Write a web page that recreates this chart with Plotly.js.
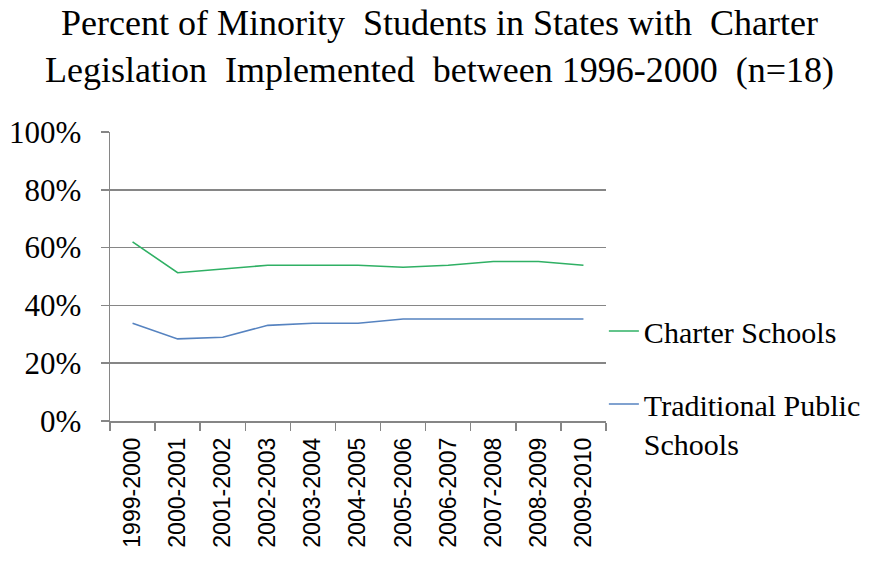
<!DOCTYPE html>
<html>
<head>
<meta charset="utf-8">
<script src="https://cdn.plot.ly/plotly-3.0.1.min.js"></script>
<style>
  html, body { margin: 0; padding: 0; background: #ffffff; }
  #chart { width: 879px; height: 582px; }
</style>
</head>
<body>
<div id="chart"></div>
<script>
// School years on the category axis
const schoolYears = ["1999-2000", "2000-2001", "2001-2002", "2002-2003", "2003-2004",
  "2004-2005", "2005-2006", "2006-2007", "2007-2008", "2008-2009", "2009-2010"];

// Share of minority students (fraction of enrolment)
const charterShare = [0.62, 0.513, 0.526, 0.539, 0.539, 0.539, 0.532, 0.539, 0.552, 0.552, 0.539];
const traditionalShare = [0.338, 0.284, 0.29, 0.331, 0.338, 0.338, 0.353, 0.353, 0.353, 0.353, 0.353];

const seriesNames = ["Charter Schools", "Traditional Public<br>Schools"];
const yTicks = [0, 0.2, 0.4, 0.6, 0.8, 1.0];
const yTickText = ["0%", "20%", "40%", "60%", "80%", "100%"];

const serif = "Liberation Serif, Times New Roman, serif";
const sans = "Liberation Sans, Arial, sans-serif";

const traces = [
  {
    x: schoolYears, y: charterShare, name: seriesNames[0],
    type: "scatter", mode: "lines",
    line: { color: "#2fb064", width: 1.6 },
    legend: "legend"
  },
  {
    x: schoolYears, y: traditionalShare, name: seriesNames[1],
    type: "scatter", mode: "lines",
    line: { color: "#5683c0", width: 1.6 },
    legend: "legend2"
  }
];

// Legends sit to the right of the plot, placed in container coordinates
const legendBase = {
  font: { family: serif, size: 30, color: "#000000" },
  bgcolor: "rgba(0,0,0,0)",
  itemwidth: 30,
  xref: "container", yref: "container",
  xanchor: "left",
  x: 0.687
};

const layout = {
  width: 879, height: 582,
  paper_bgcolor: "#ffffff", plot_bgcolor: "#ffffff",
  margin: { l: 110, r: 273, t: 132, b: 161, autoexpand: false },
  title: {
    text: "Percent of Minority  Students in States with  Charter<br>Legislation  Implemented  between 1996-2000  (n=18)",
    font: { family: serif, size: 36, color: "#000000" },
    xref: "container", yref: "container",
    x: 0.5, xanchor: "center", y: 0.94, yanchor: "top"
  },
  xaxis: {
    type: "category",
    range: [-0.5, schoolYears.length - 0.5],
    tickangle: -90,
    tickfont: { family: sans, size: 23, color: "#000000" },
    ticklabelstandoff: 6,
    showgrid: false,
    showline: true, linecolor: "#868686", linewidth: 1.5,
    ticks: "outside", ticklen: 8, tickwidth: 1.5, tickcolor: "#868686",
    tickson: "boundaries",
    zeroline: false,
    fixedrange: true
  },
  yaxis: {
    range: [0, 1],
    tickvals: yTicks, ticktext: yTickText,
    tickfont: { family: serif, size: 31, color: "#000000" },
    ticklabelstandoff: 13,
    showgrid: true, gridcolor: "#868686", gridwidth: 1.5,
    showline: true, linecolor: "#868686", linewidth: 1.5,
    ticks: "outside", ticklen: 8, tickwidth: 1.5, tickcolor: "#868686",
    zeroline: false,
    fixedrange: true
  },
  legend: Object.assign({}, legendBase, { y: 1 - 331 / 582, yanchor: "middle" }),
  legend2: Object.assign({}, legendBase, { y: 1 - 378 / 582, yanchor: "top", valign: "top" }),
  showlegend: true
};

Plotly.newPlot("chart", traces, layout, { displayModeBar: false, staticPlot: true });
</script>
</body>
</html>
